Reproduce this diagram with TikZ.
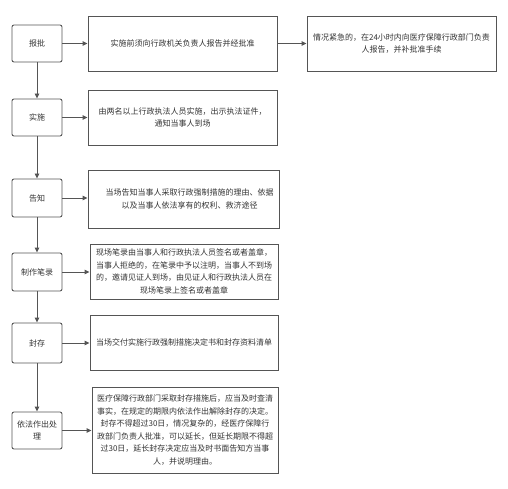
\documentclass[tikz,border=0pt]{standalone}
\usepackage{fontspec}
\setmainfont{Noto Sans CJK SC}
\usetikzlibrary{arrows.meta}
\definecolor{ln}{HTML}{555555}
\definecolor{tx}{HTML}{333333}
\begin{document}
\begin{tikzpicture}[x=1pt,y=-1pt,
  every node/.style={font=\fontsize{8}{12.5}\selectfont, text=tx, inner sep=0pt, align=center},
  lbox/.style={draw=ln, line width=0.9pt, rounded corners=2pt, minimum width=50pt},
  rbox/.style={draw=ln, line width=0.9pt},
  arr/.style={draw=ln, line width=0.9pt, -{Triangle[length=5pt,width=4.5pt]}}]
\useasboundingbox (0,0) rectangle (508,489);
% left column
\node[lbox, minimum height=37pt] (l1) at (37,43.5) {报批};
\node[lbox, minimum height=37pt] (l2) at (37,117.5) {实施};
\node[lbox, minimum height=38pt] (l3) at (37,198) {告知};
\node[lbox, minimum height=38pt] (l4) at (37,272) {制作笔录};
\node[lbox, minimum height=40pt] (l5) at (37,343) {封存};
\node[lbox, minimum height=37pt] (l6) at (37,430.5) {依法作出处\\理};
% middle column
\node[rbox, minimum width=189pt, minimum height=55pt] (b1) at (182.5,43.5) {实施前须向行政机关负责人报告并经批准};
\node[rbox, minimum width=189pt, minimum height=55pt] (b2) at (182.5,117.5) {由两名以上行政执法人员实施，出示执法证件，\\通知当事人到场};
\node[rbox, minimum width=191pt, minimum height=58pt] (b3) at (183.5,199) {\hspace*{12pt}当场告知当事人采取行政强制措施的理由、依据\\\hspace*{12pt}以及当事人依法享有的权利、救济途径};
\node[rbox, minimum width=188pt, minimum height=55pt] (b4) at (184,271.5) {现场笔录由当事人和行政执法人员签名或者盖章，\\当事人拒绝的，在笔录中予以注明，当事人不到场\\的，邀请见证人到场，由见证人和行政执法人员在\\现场笔录上签名或者盖章};
\node[rbox, minimum width=188pt, minimum height=55pt] (b5) at (184,342.5) {当场交付实施行政强制措施决定书和封存资料清单};
\node[rbox, minimum width=186pt, minimum height=86pt] (b6) at (185,430) {医疗保障行政部门采取封存措施后，应当及时查清\\事实，在规定的期限内依法作出解除封存的决定。\\封存不得超过30日，情况复杂的，经医疗保障行\\政部门负责人批准，可以延长，但延长期限不得超\\过30日，延长封存决定应当及时书面告知方当事\\人，并说明理由。};
% right
\node[rbox, minimum width=189pt, minimum height=55pt] (t1) at (401.5,43.5) {情况紧急的，在24小时内向医疗保障行政部门负责\\人报告，并补批准手续};
% horizontal arrows
\foreach \a/\b in {l1/b1,l2/b2,l3/b3,l4/b4,l5/b5,l6/b6}
  \draw[arr] (\a.east) -- (\a.east -| \b.west);
\draw[arr] (b1.east) -- (t1.west);
% vertical arrows
\foreach \a/\b in {l1/l2,l2/l3,l3/l4,l4/l5,l5/l6}
  \draw[arr] (\a.south) -- (\b.north);
\end{tikzpicture}
\end{document}
